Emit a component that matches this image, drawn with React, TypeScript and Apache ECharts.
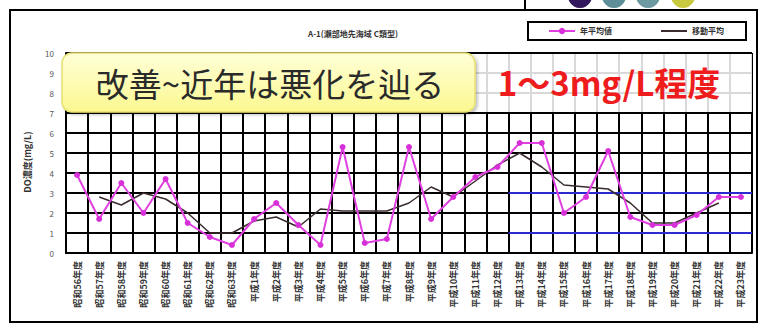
import React, { useEffect, useRef } from "react";
import * as echarts from "echarts";

const categories = [
  "昭和56年度", "昭和57年度", "昭和58年度", "昭和59年度", "昭和60年度", "昭和61年度", "昭和62年度", "昭和63年度",
  "平成1年度", "平成2年度", "平成3年度", "平成4年度", "平成5年度", "平成6年度", "平成7年度", "平成8年度", "平成9年度",
  "平成10年度", "平成11年度", "平成12年度", "平成13年度", "平成14年度", "平成15年度", "平成16年度", "平成17年度",
  "平成18年度", "平成19年度", "平成20年度", "平成21年度", "平成22年度", "平成23年度",
];

const annualValues = [
  3.9, 1.7, 3.5, 2.0, 3.7, 1.5, 0.8, 0.4, 1.7, 2.5, 1.4, 0.4, 5.3, 0.5, 0.7, 5.3,
  1.7, 2.8, 3.8, 4.3, 5.5, 5.5, 2.0, 2.8, 5.1, 1.8, 1.4, 1.4, 1.9, 2.8, 2.8,
];

const movingAverage = [
  null, 2.8, 2.4, 3.0, 2.7, 2.0, 1.0, 1.0, 1.6, 1.8, 1.3, 2.2, 2.1, 2.1, 2.1, 2.5,
  3.3, 2.8, 3.6, 4.4, 5.0, 4.3, 3.4, 3.3, 3.2, 2.5, 1.5, 1.5, 2.0, 2.5, null,
];

const yTicks = { min: 0, max: 10, interval: 1 };
const guideStart = 20;
const guideEnd = 31;
const guideLevels = [1, 3];

const FONT = "'Noto Sans CJK JP', 'Noto Sans', sans-serif";

export default function App() {
  const ref = useRef<HTMLDivElement>(null);
  useEffect(() => {
    if (!ref.current) return;
    const chart = echarts.init(ref.current, null, { renderer: "svg" });
    const guideSeries = guideLevels.map((lv, k) => ({
      name: "guide" + k,
      type: "line",
      xAxisIndex: 1,
      data: [[guideStart, lv], [guideEnd, lv]],
      symbol: "none",
      lineStyle: { color: "#2a2ad0", width: 2 },
      z: 3,
      silent: true,
    }));
    chart.setOption({
      animation: false,
      backgroundColor: "#ffffff",
      textStyle: { fontFamily: FONT },
      title: {
        text: "A-1(瀬部地先海域 C類型)",
        left: 303,
        top: 24,
        textStyle: { fontSize: 8, fontWeight: "bold", color: "#333", fontFamily: FONT },
      },
      legend: {
        data: [
          { name: "年平均値" },
          { name: "移動平均", itemStyle: { opacity: 0 } },
        ],
        right: 14,
        top: 22,
        padding: [5, 22, 5, 20],
        itemGap: 48,
        itemWidth: 26,
        itemHeight: 8,
        borderColor: "#000",
        borderWidth: 2,
        textStyle: { fontSize: 8, color: "#333", fontWeight: "bold", fontFamily: FONT },
      },
      grid: { left: 66, right: 8, top: 53, bottom: 71, containLabel: false },
      xAxis: [
        {
          type: "category",
          data: categories,
          boundaryGap: true,
          axisLine: { show: true, lineStyle: { color: "#000", width: 2 } },
          axisTick: { show: false },
          splitLine: { show: true, interval: 0, lineStyle: { color: "#000", width: 2 } },
          axisLabel: { interval: 0, rotate: 90, fontSize: 9, color: "#333", margin: 8, fontWeight: "bold", fontFamily: FONT },
        },
        { type: "value", min: 0, max: guideEnd, show: false },
      ],
      yAxis: {
        type: "value",
        min: yTicks.min,
        max: yTicks.max,
        interval: yTicks.interval,
        axisLine: { show: true, lineStyle: { color: "#000", width: 2 } },
        axisTick: { show: false },
        axisLabel: { fontSize: 8, color: "#555", margin: 12, fontFamily: FONT },
        splitLine: { show: true, lineStyle: { color: "#000", width: 2 } },
      },
      series: [
        ...guideSeries,
        {
          name: "移動平均",
          type: "line",
          data: movingAverage,
          symbol: "none",
          lineStyle: { color: "#3a2c2c", width: 1.5 },
          itemStyle: { color: "#3a2c2c" },
          z: 4,
        },
        {
          name: "年平均値",
          type: "line",
          data: annualValues,
          symbol: "circle",
          symbolSize: 6,
          lineStyle: { color: "#e040e0", width: 2 },
          itemStyle: { color: "#d830d8" },
          z: 5,
        },
      ],
      graphic: [
        {
          type: "text",
          x: 27,
          y: 162,
          rotation: Math.PI / 2,
          style: {
            text: "DO濃度(mg/L)",
            fontSize: 9,
            fontWeight: "bold",
            fontFamily: FONT,
            fill: "#333",
            align: "center",
            verticalAlign: "middle",
          },
        },
        {
          type: "rect",
          shape: { x: 10, y: 10, width: 747, height: 312 },
          style: { fill: "none", stroke: "#000", lineWidth: 2 },
          z: 100,
        },
        {
          type: "line",
          shape: { x1: 525, y1: 0, x2: 525, y2: 10 },
          style: { stroke: "#000", lineWidth: 2 },
          z: 100,
        },
        { type: "circle", shape: { cx: 580, cy: -4, r: 12 }, style: { fill: "#32195e" }, z: 99 },
        { type: "circle", shape: { cx: 614, cy: -4, r: 12 }, style: { fill: "#5e8e98" }, z: 99 },
        { type: "circle", shape: { cx: 648, cy: -4, r: 12 }, style: { fill: "#6c9aa0" }, z: 99 },
        { type: "circle", shape: { cx: 683, cy: -4, r: 12 }, style: { fill: "#c9c940" }, z: 99 },
        {
          type: "rect",
          shape: { x: 475, y: 54, width: 277, height: 58 },
          style: { fill: "rgba(255,255,255,0.85)" },
          z: 50,
        },
        {
          type: "rect",
          shape: { x: 62, y: 53, width: 413, height: 59, r: 10 },
          style: {
            fill: new echarts.graphic.LinearGradient(0, 0, 0, 1, [
              { offset: 0, color: "#ffffd8" },
              { offset: 1, color: "#fbf890" },
            ]),
            stroke: "#e8e070",
            lineWidth: 1.5,
            shadowBlur: 3,
            shadowColor: "rgba(0,0,0,0.25)",
            shadowOffsetX: 2,
            shadowOffsetY: 2,
          },
          z: 51,
        },
        {
          type: "text",
          x: 270,
          y: 83,
          style: {
            text: "改善~近年は悪化を辿る",
            fontSize: 33,
            fontFamily: FONT,
            fill: "#2a2a2a",
            align: "center",
            verticalAlign: "middle",
          },
          z: 52,
        },
        {
          type: "text",
          x: 609,
          y: 82,
          style: {
            text: "1〜3mg/L程度",
            fontSize: 33,
            fontWeight: "bold",
            fontFamily: FONT,
            fill: "#ee1c1c",
            align: "center",
            verticalAlign: "middle",
          },
          z: 52,
        },
      ],
    });
    return () => chart.dispose();
  }, []);
  return <div ref={ref} style={{ width: 760, height: 324, position: "absolute", left: 0, top: 0 }} />;
}
